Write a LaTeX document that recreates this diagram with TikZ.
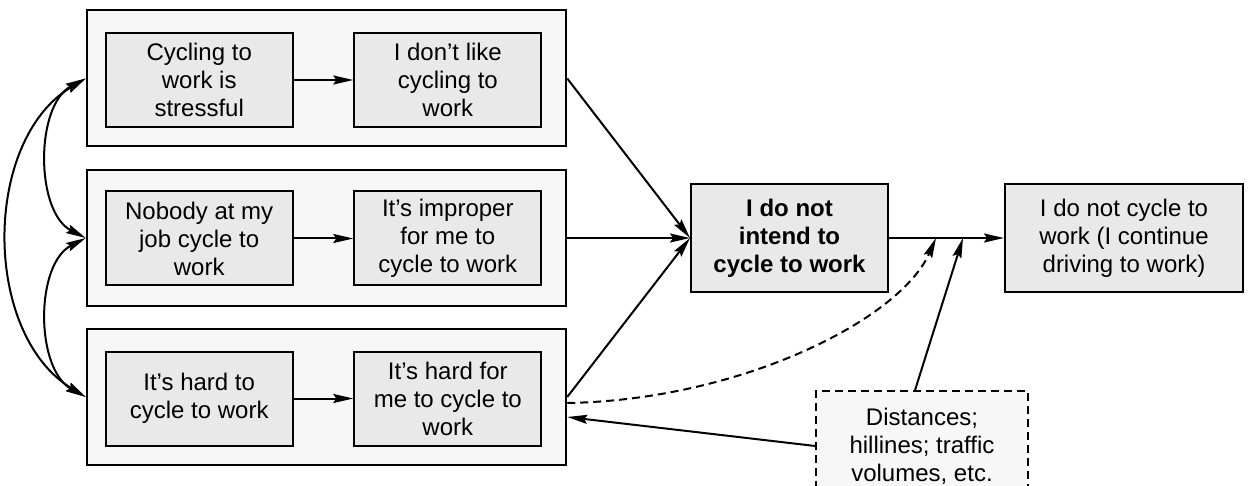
\documentclass[tikz,border=0pt]{standalone}
\usepackage{fontspec}
\setmainfont{Liberation Sans}
\usetikzlibrary{arrows.meta,calc}
\definecolor{panelfill}{RGB}{247,247,247}
\definecolor{boxfill}{RGB}{233,233,233}
\begin{document}
\begin{tikzpicture}[x=0.5pt,y=-0.5pt,
  panel/.style={draw, line width=1pt, fill=panelfill, minimum width=239.75pt,
    minimum height=68pt, inner sep=0pt},
  item/.style={draw, line width=1pt, fill=boxfill, minimum width=93.5pt,
    minimum height=47pt, align=center, inner sep=0pt,
    font=\fontsize{12}{14}\selectfont},
  link/.style={line width=1pt, -{Stealth[length=10pt,width=4.5pt,inset=1.5pt]}},
  twoway/.style={line width=1pt,
    {Stealth[length=10pt,width=4.5pt,inset=1.5pt]}-{Stealth[length=10pt,width=4.5pt,inset=1.5pt]}},
  dashline/.style={dash pattern=on 4pt off 2.5pt}
]
\useasboundingbox (0,0) rectangle (1253,486);

% three groups of beliefs
\node[panel] (g1) at (326.5,78.5) {};
\node[item] (a1) at (199.2,80) {Cycling to\\work is\\stressful};
\node[item] (b1) at (447.8,80) {I don’t like\\cycling to\\work};

\node[panel] (g2) at (326.5,238) {};
\node[item] (a2) at (199.2,238.5) {Nobody at my\\job cycle to\\work};
\node[item] (b2) at (447.8,238.5) {It’s improper\\for me to\\cycle to work};

\node[panel] (g3) at (326.5,397) {};
\node[item] (a3) at (199.2,398.5) {It’s hard to\\cycle to work};
\node[item] (b3) at (447.8,398.5) {It’s hard for\\me to cycle to\\work};

\draw[link] (a1) -- (b1);
\draw[link] (a2) -- (b2);
\draw[link] (a3) -- (b3);

% intention, behaviour and context
\node[item, minimum width=98.5pt, minimum height=54pt,
  font=\fontsize{12}{14}\selectfont\bfseries] (int) at (789.5,238)
  {I do not\\intend to\\cycle to work};
\node[item, minimum width=119pt, minimum height=54pt] (beh) at (1124,238)
  {I do not cycle to\\work (I continue\\driving to work)};
\node[item, fill=panelfill, dashline, line width=0.8pt, minimum width=106pt,
  minimum height=55pt] (ctx) at (922,446)
  {Distances;\\hillines; traffic\\volumes, etc.};

\coordinate (j1) at (936,238);
\coordinate (j2) at (963,238);

% connectors
\draw[link] (g1.east) -- (int.west);
\draw[link] (g2.east) -- (int.west);
\draw[link] (g3.east) -- (int.west);
\draw[link] (int.east) -- (beh.west);
\draw[link, dashline] ([yshift=-3pt]g3.east) .. controls (740,400) and (900,320) .. (j1);
\draw[link] ([xshift=-3.5pt]ctx.north) -- (j2);
\draw[link] (ctx.west) -- ([yshift=-10pt]g3.east);

% correlations between the belief groups
\draw[twoway] (g1.west) .. controls (35,105) and (35,212) .. (g2.west);
\draw[twoway] (g2.west) .. controls (35,264) and (35,369) .. (g3.west);
\draw[twoway] (g1.west) .. controls (-18,140) and (-18,334) .. (g3.west);
\end{tikzpicture}
\end{document}
